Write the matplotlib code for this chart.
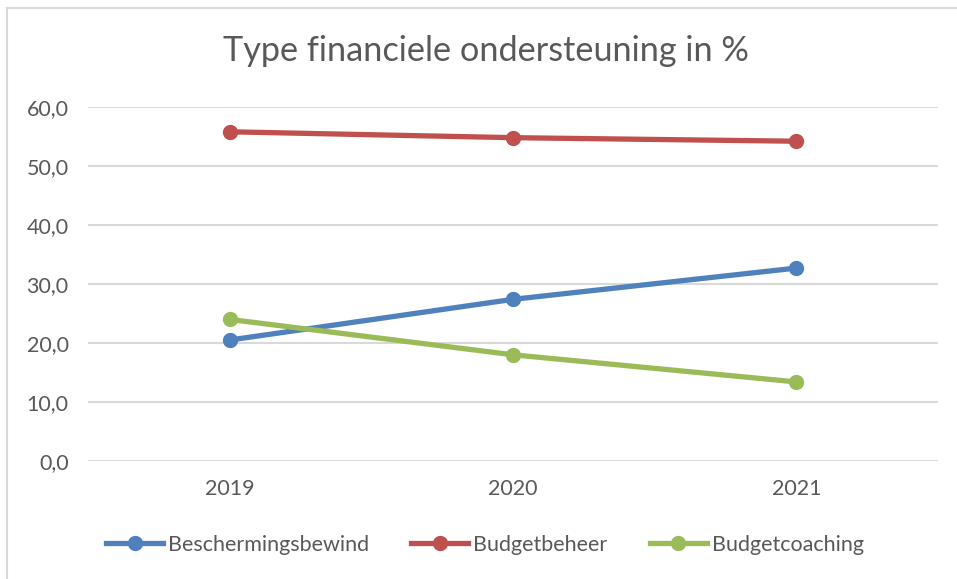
import matplotlib.pyplot as plt
from matplotlib.lines import Line2D

years = ['2019', '2020', '2021']
beschermingsbewind = [20.5, 27.4, 32.7]
budgetbeheer = [55.8, 54.8, 54.2]
budgetcoaching = [24.0, 18.0, 13.4]
series_names = ['Beschermingsbewind', 'Budgetbeheer', 'Budgetcoaching']
yticks = [0, 10, 20, 30, 40, 50, 60]

colors = ['#4f81bd', '#c0504d', '#9bbb59']
txt = '#595959'

plt.rcParams['font.family'] = ['Lato', 'DejaVu Sans']

fig = plt.figure(figsize=(9.57, 5.79), dpi=100)
ax = fig.add_axes([88 / 957, 118 / 579, 850 / 957, 354 / 579])

x = list(range(len(years)))
for vals, name, c in zip([beschermingsbewind, budgetbeheer, budgetcoaching], series_names, colors):
    ax.plot(x, vals, color=c, lw=3.8, marker='o', ms=10, label=name,
            solid_capstyle='round', zorder=3)

ax.set_xlim(-0.5, 2.5)
ax.set_ylim(0, 60)
ax.set_yticks(yticks)
ax.set_yticklabels([f'{v:.1f}'.replace('.', ',') for v in yticks])
ax.set_xticks(x)
ax.set_xticklabels(years)
ax.grid(axis='y', color='#d9d9d9', lw=1.5)
ax.set_axisbelow(True)
for s in ax.spines.values():
    s.set_visible(False)
ax.tick_params(length=0, colors=txt, labelsize=15.5)
ax.tick_params(axis='y', pad=14)
ax.tick_params(axis='x', pad=13)

fig.text(486 / 957, 1 - 51 / 579, 'Type financiele ondersteuning in %', ha='center', va='center',
         fontsize=24.7, color=txt)

handles = [Line2D([0], [0], color=c, lw=3.8, marker='o', ms=10) for c in colors]
fig.legend(handles, series_names, loc='center', bbox_to_anchor=(485 / 957, 1 - 545 / 579),
           ncol=3, frameon=False, fontsize=15.5, labelcolor=txt, handlelength=2.65,
           handletextpad=0.23, columnspacing=1.95)

# chart border (top and left visible)
fig.add_artist(Line2D([7 / 957, 7 / 957], [0, 1 - 8 / 579], color='#d9d9d9', lw=1.5))
fig.add_artist(Line2D([7 / 957, 1], [1 - 8 / 579, 1 - 8 / 579], color='#d9d9d9', lw=1.5))

fig.savefig('out.png', dpi=100)
